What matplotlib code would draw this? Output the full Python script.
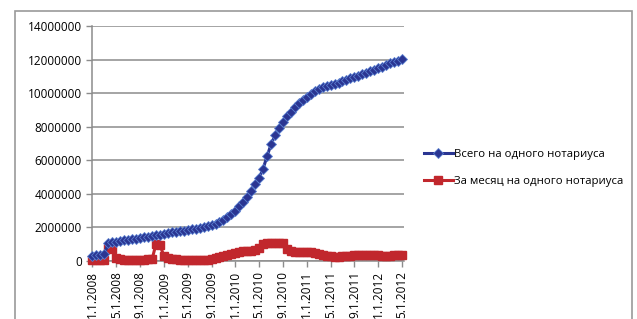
import matplotlib
matplotlib.use("Agg")
import matplotlib.pyplot as plt
import numpy as np
from matplotlib.patches import Rectangle

# values per notary, thousands (about 3 points per 2 months, 1.1.2008 .. 5.1.2012)
total_k = [
    300, 350, 380, 420, 1080, 1120, 1150, 1190, 1230, 1270, 1300, 1340, 1380,
    1410, 1450, 1490, 1520, 1560, 1600, 1670, 1700, 1740, 1770, 1800, 1840,
    1880, 1920, 1970, 2010, 2060, 2120, 2220, 2330, 2450, 2620, 2800, 3000,
    3250, 3520, 3800, 4200, 4600, 4950, 5500, 6250, 6950, 7480, 7950, 8300,
    8620, 8900, 9180, 9420, 9620, 9800, 9950, 10120, 10270, 10360, 10440, 10500,
    10560, 10630, 10720, 10800, 10880, 10960, 11040, 11120, 11200, 11300, 11400, 11500,
    11580, 11680, 11770, 11850, 11930, 12010]

month_k = [
    30, 30, 30, 40, 750, 700, 150, 100, 80, 70, 70, 70, 80,
    80, 90, 100, 1000, 950, 300, 200, 140, 100, 70, 50, 40,
    30, 40, 50, 60, 80, 100, 150, 220, 280, 350, 420, 480,
    550, 600, 620, 600, 650, 750, 1000, 1050, 1060, 1080, 1100, 1050,
    700, 580, 550, 550, 560, 550, 520, 480, 420, 360, 300, 270,
    260, 260, 280, 300, 320, 330, 350, 360, 370, 380, 360, 330,
    300, 290, 320, 340, 360, 380]

tick_labels = ['1.1.2008', '5.1.2008', '9.1.2008', '1.1.2009', '5.1.2009',
               '9.1.2009', '1.1.2010', '5.1.2010', '9.1.2010', '1.1.2011',
               '5.1.2011', '9.1.2011', '1.1.2012', '5.1.2012']

labels = ['Всего на одного нотариуса', 'За месяц на одного нотариуса']

plt.rcParams['font.family'] = ['Open Sans', 'DejaVu Sans']

total = np.array(total_k) * 1000
month = np.array(month_k) * 1000
x = np.arange(len(total))

fig = plt.figure(figsize=(6.37, 3.19), dpi=100)
W, H = 637, 319
ax = fig.add_axes([91.5 / W, 1 - 261 / H, (404 - 91.5) / W, (261 - 26) / H])

blue = '#2a3592'
red = '#c1272d'

l1, = ax.plot(x, total, color=blue, lw=2.2, marker='D', ms=5.5,
              mfc=blue, mec='#5a7fd0', mew=0.6, clip_on=False, zorder=4)
l2, = ax.plot(x, month, color=red, lw=2.2, marker='s', ms=6.2,
              mfc=red, mec=red, clip_on=False, zorder=3)

ax.set_xlim(-0.25, 78.5)
ax.set_ylim(0, 14000000)
ax.set_yticks(np.arange(0, 14000001, 2000000))
ax.set_yticklabels([str(v) for v in range(0, 14000001, 2000000)], fontsize=8.5)
ax.set_xticks(np.arange(0, 79, 6))
ax.set_xticklabels(tick_labels, rotation=90, fontsize=8.5)

ax.grid(axis='y', color='#8c8c8c', lw=1.1)
ax.set_axisbelow(True)
for s in ['top', 'right']:
    ax.spines[s].set_visible(False)
ax.spines['left'].set_color('#8c8c8c')
ax.spines['bottom'].set_color('#8c8c8c')
ax.spines['left'].set_linewidth(1.1)
ax.spines['bottom'].set_linewidth(1.1)
ax.tick_params(axis='both', color='#8c8c8c', length=4, width=1, pad=3, labelcolor='black')

fig.legend([l1, l2], labels, loc='center left', bbox_to_anchor=(414 / W, 1 - 168 / H),
           frameon=False, fontsize=8.2, handlelength=2.5, handletextpad=0.15,
           labelspacing=1.35)

# outer chart border
fig.patches.append(Rectangle((15 / W, -0.05), (632 - 15) / W, (H - 11) / H + 0.05,
                             transform=fig.transFigure, fill=False,
                             edgecolor='#9a9a9a', lw=1.2))

fig.savefig('out.png', dpi=100)
